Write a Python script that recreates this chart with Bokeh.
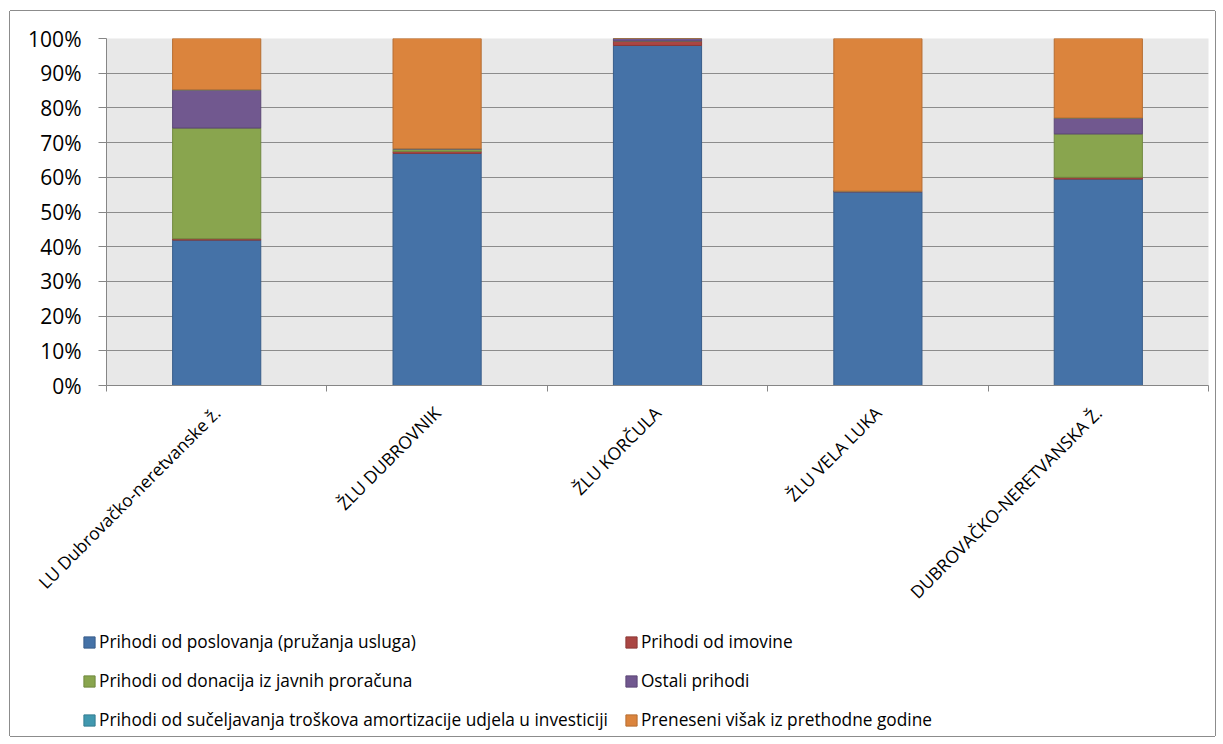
import math
from bokeh.plotting import figure
from bokeh.models import (FixedTicker, PrintfTickFormatter, Legend, LegendItem,
                          Range1d, ColumnDataSource)
from bokeh.embed import file_html
from bokeh.resources import INLINE

categories = ["LU Dubrovačko-neretvanske ž.", "ŽLU DUBROVNIK", "ŽLU KORČULA",
              "ŽLU VELA LUKA", "DUBROVAČKO-NERETVANSKA Ž."]
series_names = ["Prihodi od poslovanja (pružanja usluga)",
                "Prihodi od imovine",
                "Prihodi od donacija iz javnih proračuna",
                "Ostali prihodi",
                "Prihodi od sučeljavanja troškova amortizacije udjela u investiciji",
                "Preneseni višak iz prethodne godine"]
poslovanje = [41.9, 66.9, 98.0, 55.8, 59.5]
imovina = [0.4, 0.6, 1.3, 0.2, 0.5]
donacije = [31.9, 0.6, 0.0, 0.0, 12.5]
ostali = [11.0, 0.1, 0.7, 0.0, 4.6]
amortizacija = [0.0, 0.0, 0.0, 0.0, 0.0]
preneseni = [14.8, 31.8, 0.0, 44.0, 22.9]
y_ticks = [0, 10, 20, 30, 40, 50, 60, 70, 80, 90, 100]

fills = ["#4572A7", "#AA4643", "#89A54E", "#71588F", "#4198AF", "#DB843D"]
lines = ["#385D8A", "#8C3836", "#71893F", "#5C4776", "#357D91", "#B66D31"]
keys = ["s0", "s1", "s2", "s3", "s4", "s5"]

n = len(categories)
xpos = [i + 0.5 for i in range(n)]
data = dict(x=xpos)
for k, vals in zip(keys, [poslovanje, imovina, donacije, ostali, amortizacija, preneseni]):
    data[k] = vals
source = ColumnDataSource(data)

FONT = "Open Sans"
EDGE = "#8C8C8C"

# ---- main chart ----
p = figure(frame_width=1102, frame_height=347, output_backend="svg", toolbar_location=None,
           x_range=Range1d(0, n), y_range=Range1d(0, 100),
           min_border_left=96, min_border_right=7, min_border_top=27,
           min_border_bottom=242)
p.styles = {"margin-left": "10px", "margin-top": "11px",
            "box-shadow": f"-1px 0 0 0 {EDGE}, 1px 0 0 0 {EDGE}, 0 -1px 0 0 {EDGE}"}
p.background_fill_color = "#E8E8E8"
p.border_fill_color = "white"
p.outline_line_color = None

renderers = p.vbar_stack(keys, x="x", width=0.4, source=source,
                         fill_color=fills, line_color=lines, line_width=1)

p.yaxis.ticker = FixedTicker(ticks=y_ticks)
p.yaxis.formatter = PrintfTickFormatter(format="%d%%")
p.yaxis.major_tick_out = 8
p.yaxis.major_tick_in = 0
p.yaxis.minor_tick_out = 0
p.yaxis.minor_tick_in = 0
p.yaxis.axis_line_color = "#868686"
p.yaxis.major_tick_line_color = "#868686"
p.yaxis.major_label_text_font = FONT
p.yaxis.major_label_text_font_size = "21px"
p.yaxis.major_label_text_color = "black"
p.yaxis.major_label_standoff = 17

p.xaxis.ticker = FixedTicker(ticks=xpos, minor_ticks=list(range(n + 1)))
p.xaxis.major_label_overrides = {float(x): c for x, c in zip(xpos, categories)}
p.xaxis.major_tick_out = 0
p.xaxis.major_tick_in = 0
p.xaxis.minor_tick_out = 6
p.xaxis.minor_tick_in = 0
p.xaxis.minor_tick_line_color = "#868686"
p.xaxis.axis_line_color = "#868686"
p.xaxis.major_label_orientation = math.pi / 4
p.xaxis.major_label_text_font = FONT
p.xaxis.major_label_text_font_size = "17.5px"
p.xaxis.major_label_text_color = "black"
p.xaxis.major_label_standoff = 18

p.xgrid.grid_line_color = None
p.ygrid.grid_line_color = "#8C8C8C"
p.ygrid.grid_line_width = 1

# ---- legend strip (same series, drawn off-range so only the legend shows) ----
p2 = figure(width=1205, height=109, output_backend="svg", toolbar_location=None,
            x_range=Range1d(0, n), y_range=Range1d(1000, 1001),
            x_axis_type=None, y_axis_type=None, min_border=0,
            min_border_left=0, min_border_right=0, min_border_top=0,
            min_border_bottom=0)
p2.styles = {"margin-left": "10px",
             "box-shadow": f"-1px 0 0 0 {EDGE}, 1px 0 0 0 {EDGE}, 0 1px 0 0 {EDGE}"}
p2.xgrid.grid_line_color = None
p2.ygrid.grid_line_color = None
p2.outline_line_color = None
p2.background_fill_color = "white"
p2.border_fill_color = "white"

legend_renderers = p2.vbar_stack(keys, x="x", width=0.4, source=source,
                                 fill_color=fills, line_color=lines, line_width=1)

order = [0, 2, 4, 1, 3, 5]
legend = Legend(items=[LegendItem(label=series_names[i], renderers=[legend_renderers[i]])
                       for i in order],
                orientation="vertical", ncols=2, location=(72, 5),
                padding=0, margin=0, spacing=16,
                glyph_height=14, glyph_width=14, label_height=14,
                label_standoff=3, label_text_font=FONT,
                label_text_font_size="17.3px", label_text_color="black",
                border_line_color=None, background_fill_alpha=0)
p2.add_layout(legend)

open("out.html", "w").write(file_html([p, p2], INLINE))
